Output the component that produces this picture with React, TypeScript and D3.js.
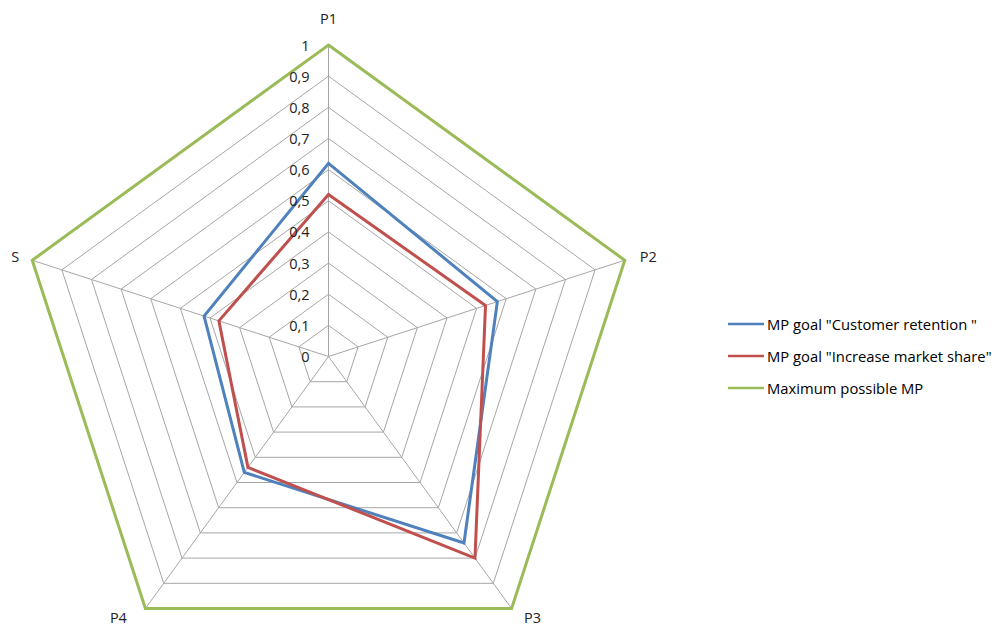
import React from "react";
import * as d3 from "d3";

const axes = ["P1", "P2", "P3", "P4", "S"];
const seriesNames = [
  'MP goal "Customer retention "',
  'MP goal "Increase market share"',
  "Maximum possible MP",
];
const customerRetention = [0.62, 0.57, 0.74, 0.46, 0.42];
const increaseMarketShare = [0.52, 0.53, 0.8, 0.44, 0.37];
const maximumPossible = [1, 1, 1, 1, 1];
const ticks = [0, 0.1, 0.2, 0.3, 0.4, 0.5, 0.6, 0.7, 0.8, 0.9, 1];
const tickLabels = ["0", "0,1", "0,2", "0,3", "0,4", "0,5", "0,6", "0,7", "0,8", "0,9", "1"];
const colors = ["#4f81bd", "#c0504d", "#9bbb59"];

export default function App() {
  const W = 1008, H = 626;
  const cx = 328.5, cy = 356.5, R = 311.5;
  const r = d3.scaleLinear().domain([0, 1]).range([0, R]);
  const ang = (i: number) => (i * 2 * Math.PI) / axes.length;
  const pt = (i: number, v: number): [number, number] => [
    cx + r(v) * Math.sin(ang(i)),
    cy - r(v) * Math.cos(ang(i)),
  ];
  const line = d3.line<[number, number]>().curve(d3.curveLinearClosed);
  const poly = (vals: number[]) => line(vals.map((v, i) => pt(i, v))) || "";
  const series = [customerRetention, increaseMarketShare, maximumPossible];
  const font = "'Open Sans', 'Noto Sans', sans-serif";
  const labelPos: { dx: number; dy: number; anchor: string }[] = [
    { dx: 0, dy: -27, anchor: "middle" },
    { dx: 15, dy: -4, anchor: "start" },
    { dx: 21, dy: 9, anchor: "middle" },
    { dx: -27, dy: 9, anchor: "middle" },
    { dx: -17, dy: -4, anchor: "middle" },
  ];
  return (
    <svg width={W} height={H} style={{ position: "absolute", left: 0, top: 0, background: "#fff" }}>
      <g fill="none" stroke="#a6a6a6" strokeWidth={1}>
        {ticks.slice(1).map((t) => (
          <path key={t} d={poly(axes.map(() => t))} />
        ))}
        {axes.map((a, i) => {
          const [x, y] = pt(i, 1);
          return <line key={a} x1={cx} y1={cy} x2={x} y2={y} />;
        })}
      </g>
      {[2, 0, 1].map((k) => (
        <path key={k} d={poly(series[k])} fill="none" stroke={colors[k]} strokeWidth={3} strokeLinejoin="miter" />
      ))}
      <g fontFamily={font} fontSize={14.5} fill="#222">
        {ticks.map((t, i) => (
          <text key={t} x={cx - 19} y={cy - r(t)} textAnchor="end" dominantBaseline="central">
            {tickLabels[i]}
          </text>
        ))}
        {axes.map((a, i) => {
          const [x, y] = pt(i, 1);
          const p = labelPos[i];
          return (
            <text key={a} x={x + p.dx} y={y + p.dy} textAnchor={p.anchor} dominantBaseline="central">
              {a}
            </text>
          );
        })}
      </g>
      <g fontFamily={font} fontSize={14.8} fill="#000">
        {seriesNames.map((n, i) => (
          <g key={n} transform={`translate(728, ${324 + i * 32})`}>
            <line x1={0} x2={36} y1={0} y2={0} stroke={colors[i]} strokeWidth={2.5} />
            <text x={39} y={0} dominantBaseline="central">{n}</text>
          </g>
        ))}
      </g>
    </svg>
  );
}
